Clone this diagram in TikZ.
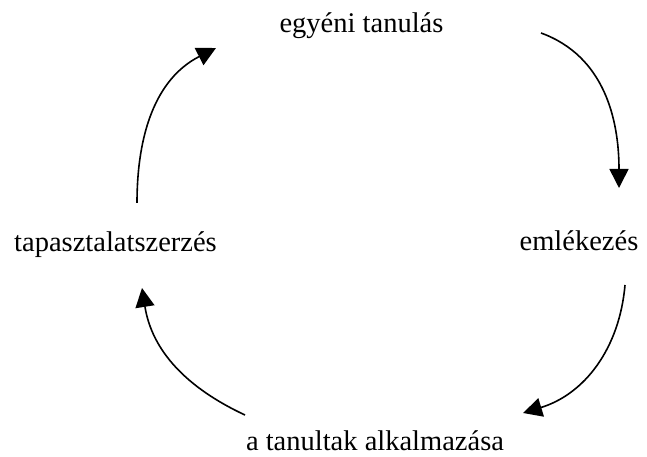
\documentclass[tikz,border=0pt]{standalone}
\usepackage{fontspec}
\setmainfont{Liberation Serif}
\usetikzlibrary{arrows.meta}
\begin{document}
\begin{tikzpicture}[x=1pt,y=1pt,
  lbl/.style={anchor=base,inner sep=0pt,font=\fontsize{28.5}{34}\selectfont},
  cyc/.style={line width=1.6pt,-{Triangle[length=19pt,width=19pt]}}]
\useasboundingbox (0,0) rectangle (647,457);
\node[lbl] (n1) at (361.5,424) {egyéni tanulás};
\node[lbl] (n2) at (579,206) {emlékezés};
\node[lbl] (n3) at (375,6) {a tanultak alkalmazása};
\node[lbl] (n4) at (115.5,205) {tapasztalatszerzés};
\coordinate (a1s) at (137,254);
\coordinate (a1e) at (216,409);
\coordinate (a2s) at (541,424);
\coordinate (a2e) at (619,269);
\coordinate (a3s) at (625,172);
\coordinate (a3e) at (523,44);
\coordinate (a4s) at (245,42);
\coordinate (a4e) at (142,169);
\draw[cyc] (a1s) to[out=90,in=207] (a1e);
\draw[cyc] (a2s) to[out=-20,in=90] (a2e);
\draw[cyc] (a3s) to[out=-95,in=17] (a3e);
\draw[cyc] (a4s) to[out=155,in=-81] (a4e);
\end{tikzpicture}
\end{document}
